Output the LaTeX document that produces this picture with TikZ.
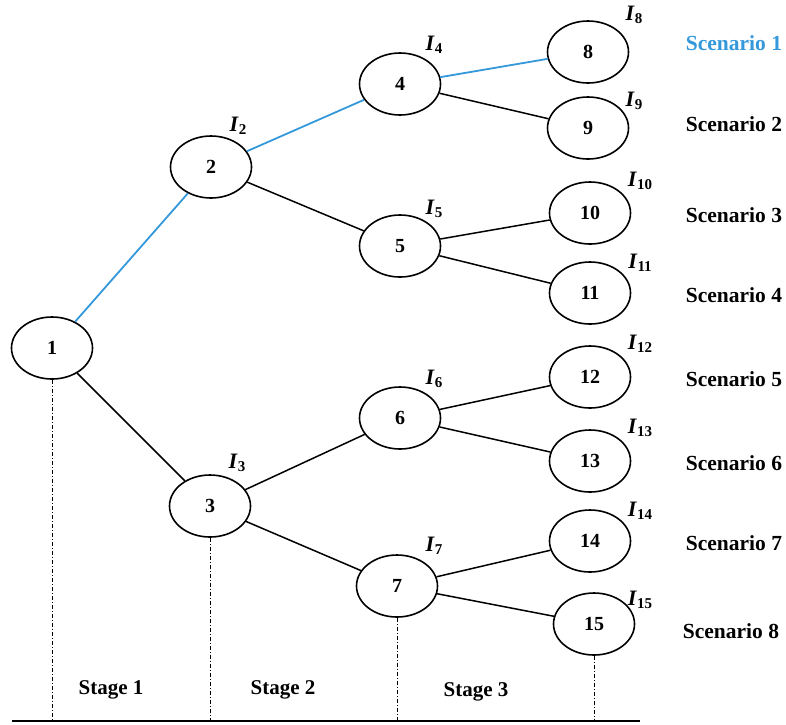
\documentclass[tikz,border=0pt]{standalone}
\usepackage{fontspec}
\setmainfont{Liberation Serif}
\usetikzlibrary{shapes.geometric}
\newcommand{\infoset}[1]{\textbf{\textit{I}}\raisebox{-0.35ex}{\fontsize{15}{15}\selectfont\bfseries\upshape #1}}
\begin{document}
\begin{tikzpicture}[x=1pt,y=-1pt,
  state/.style={draw,ellipse,line width=1.6pt,minimum width=81pt,minimum height=62pt,inner sep=0pt,font=\fontsize{20}{20}\selectfont\bfseries},
  tag/.style={font=\fontsize{22}{22}\selectfont},
  scen/.style={font=\fontsize{21.5}{21.5}\selectfont\bfseries},
  stage/.style={font=\fontsize{21}{21}\selectfont\bfseries},
  edge/.style={line width=1.5pt},
  hot/.style={line width=1.8pt,draw=hotblue},
  guide/.style={line width=0.9pt,dash pattern=on 4pt off 2pt on 1pt off 2pt}]
\definecolor{hotblue}{RGB}{52,152,219}
\useasboundingbox (0,0) rectangle (786,724);
% tree nodes
\node[state] (n1) at (52,348) {1};
\node[state] (n2) at (211,167) {2};
\node[state] (n3) at (210,506) {3};
\node[state] (n4) at (400,84) {4};
\node[state] (n5) at (400,246) {5};
\node[state] (n6) at (400,418) {6};
\node[state] (n7) at (397,586) {7};
\node[state] (n8) at (588,52) {8};
\node[state] (n9) at (588,128) {9};
\node[state] (n10) at (590,213) {10};
\node[state] (n11) at (590,293) {11};
\node[state] (n12) at (590,377) {12};
\node[state] (n13) at (590,461) {13};
\node[state] (n14) at (590,541) {14};
\node[state] (n15) at (594,624) {15};
% information-set labels
\node[tag] (i2) at (238,126) {\infoset{2}};
\node[tag] (i3) at (237,463) {\infoset{3}};
\node[tag] (i4) at (434,45) {\infoset{4}};
\node[tag] (i5) at (434,209) {\infoset{5}};
\node[tag] (i6) at (434,379) {\infoset{6}};
\node[tag] (i7) at (434,546) {\infoset{7}};
\node[tag] (i8) at (634,15) {\infoset{8}};
\node[tag] (i9) at (634,101) {\infoset{9}};
\node[tag] (i10) at (640,181) {\infoset{10}};
\node[tag] (i11) at (640,263) {\infoset{11}};
\node[tag] (i12) at (640,344) {\infoset{12}};
\node[tag] (i13) at (640,428) {\infoset{13}};
\node[tag] (i14) at (640,511) {\infoset{14}};
\node[tag] (i15) at (640,600) {\infoset{15}};
% scenario labels
\node[scen,text=hotblue] (s1) at (734,43) {Scenario 1};
\node[scen] (s2) at (734,124) {Scenario 2};
\node[scen] (s3) at (734,215) {Scenario 3};
\node[scen] (s4) at (734,295) {Scenario 4};
\node[scen] (s5) at (734,379) {Scenario 5};
\node[scen] (s6) at (734,463) {Scenario 6};
\node[scen] (s7) at (734,543) {Scenario 7};
\node[scen] (s8) at (731,631) {Scenario 8};
% stage labels
\node[stage] (st1) at (111,690) {Stage 1};
\node[stage] (st2) at (283,690) {Stage 2};
\node[stage] (st3) at (476,692) {Stage 3};
% branches
\draw[hot] (n1) -- (n2);
\draw[hot] (n2) -- (n4);
\draw[hot] (n4) -- (n8);
\draw[edge] (n1) -- (n3);
\draw[edge] (n2) -- (n5);
\draw[edge] (n3) -- (n6);
\draw[edge] (n3) -- (n7);
\draw[edge] (n4) -- (n9);
\draw[edge] (n5) -- (n10);
\draw[edge] (n5) -- (n11);
\draw[edge] (n6) -- (n12);
\draw[edge] (n6) -- (n13);
\draw[edge] (n7) -- (n14);
\draw[edge] (n7) -- (n15);
% stage boundaries and time axis
\coordinate (b1) at (52,721);
\coordinate (b3) at (210,721);
\coordinate (b7) at (397,721);
\coordinate (b15) at (594,721);
\coordinate (axl) at (12,721);
\coordinate (axr) at (640,721);
\draw[guide] (n1.south) -- (b1);
\draw[guide] (n3.south) -- (b3);
\draw[guide] (n7.south) -- (b7);
\draw[guide] (n15.south) -- (b15);
\draw[line width=1.1pt] (axl) -- (axr);
\end{tikzpicture}
\end{document}
